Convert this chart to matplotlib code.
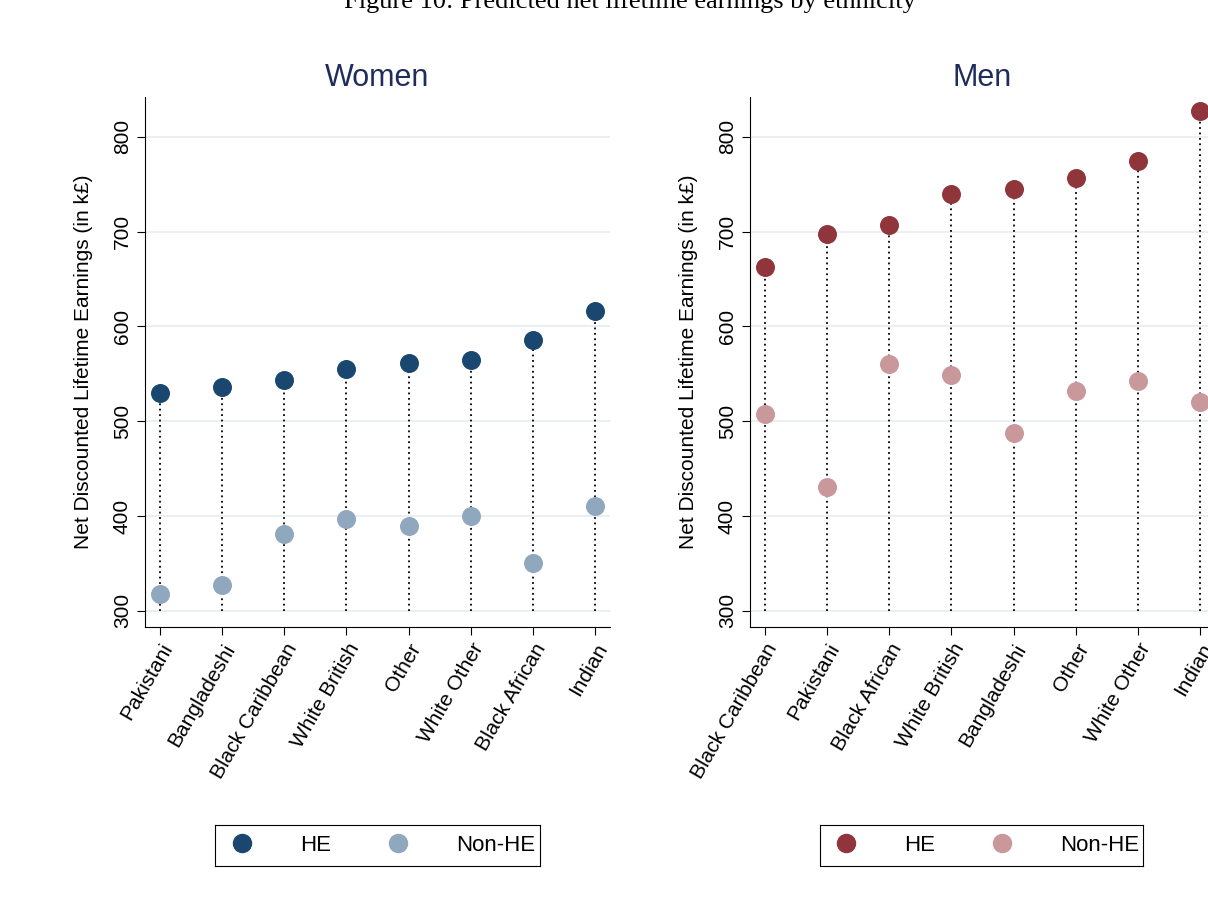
import matplotlib
matplotlib.use("Agg")
import matplotlib.pyplot as plt
from matplotlib.lines import Line2D

plt.rcParams['font.family'] = ['Liberation Sans', 'DejaVu Sans']

women_cats = ["Pakistani", "Bangladeshi", "Black Caribbean", "White British", "Other", "White Other", "Black African", "Indian"]
women_he = [530, 536, 543, 555, 561, 565, 586, 616]
women_non = [318, 327, 381, 397, 390, 400, 350, 411]
men_cats = ["Black Caribbean", "Pakistani", "Black African", "White British", "Bangladeshi", "Other", "White Other", "Indian"]
men_he = [663, 697, 707, 740, 745, 757, 775, 827]
men_non = [508, 431, 560, 549, 488, 532, 542, 520]
yticks = [300, 400, 500, 600, 700, 800]

W, H = 1208, 914
fig = plt.figure(figsize=(W/100, H/100), dpi=100)
fig.text(630/W, 1 - 2/H, "Figure 10: Predicted net lifetime earnings by ethnicity", ha="center", va="center",
         fontsize=19, family="Liberation Serif")

def panel(left, right, title, cats, he, non, c_he, c_non, leg_x0, leg_x1):
    ax = fig.add_axes([left/W, 1-627/H, (right-left)/W, (627-97)/H])
    x = list(range(len(cats)))
    ax.vlines(x, 300, he, colors="black", linestyles=(0, (1, 2)), lw=1.3, zorder=1)
    ax.scatter(x, he, s=160, color=c_he, zorder=3)
    ax.scatter(x, non, s=160, color=c_non, zorder=3)
    ax.set_xlim(-0.24, len(cats)-1+0.24)
    ax.set_ylim(283, 842)
    ax.set_yticks(yticks)
    ax.set_yticklabels([str(v) for v in yticks], rotation=90, va="center", fontsize=15)
    ax.set_xticks(x)
    ax.set_xticklabels(cats, rotation=60, ha="right", rotation_mode="anchor", fontsize=15)
    ax.grid(axis="y", color="#e8ecef", lw=1.2)
    ax.set_axisbelow(True)
    for s in ["top", "right"]:
        ax.spines[s].set_visible(False)
    ax.tick_params(length=6)
    ax.set_ylabel("Net Discounted Lifetime Earnings (in k£)", fontsize=15, labelpad=14)
    ax.set_title(title, fontsize=22, color="#1f2d5c", pad=8)
    lax = fig.add_axes([leg_x0/W, 1-866/H, (leg_x1-leg_x0)/W, 41/H])
    lax.set_xticks([]); lax.set_yticks([])
    handles = [Line2D([], [], marker="o", ls="", color=c_he, ms=13),
               Line2D([], [], marker="o", ls="", color=c_non, ms=13)]
    lax.legend(handles, ["HE", "Non-HE"], loc="center", ncol=2, frameon=False, fontsize=16,
               handletextpad=1.6, columnspacing=2.0)

panel(145, 610, "Women", women_cats, women_he, women_non, "#1a476f", "#90a8bd", 215, 540)
panel(750, 1215, "Men", men_cats, men_he, men_non, "#90353b", "#c9989b", 820, 1143)
fig.savefig("out.png", dpi=100)
